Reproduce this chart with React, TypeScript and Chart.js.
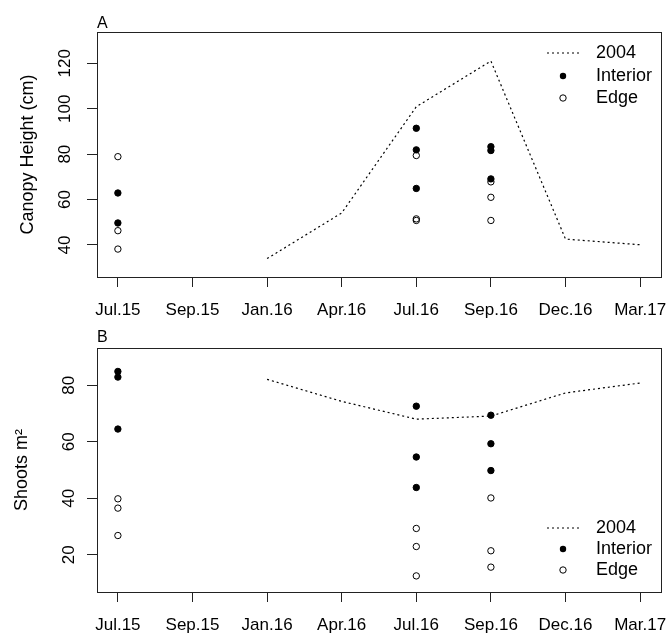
import React, { useEffect, useRef } from 'react';
import { Chart, registerables } from 'chart.js';
Chart.register(...registerables);

const FONT = "'Liberation Sans', Arial, sans-serif";

// x axis (equally spaced sampling periods)
const xLabels = ['Jul.15', 'Sep.15', 'Jan.16', 'Apr.16', 'Jul.16', 'Sep.16', 'Dec.16', 'Mar.17'];
const xTickPositions = [1, 2, 3, 4, 5, 6, 7, 8];

// 2004 reference line
const lineX = [3, 4, 5, 6, 7, 8];
const height2004 = [34.0, 54.1, 100.9, 121.0, 42.6, 40.1];
const shoots2004 = [82.1, 74.3, 68.0, 69.1, 77.3, 80.8];

// panel A: canopy height (cm)
const heightInteriorJul15 = [62.9, 49.7];
const heightEdgeJul15 = [78.9, 46.3, 38.2];
const heightInteriorJul16 = [91.4, 81.9, 64.9];
const heightEdgeJul16 = [79.4, 51.5, 50.8];
const heightInteriorSep16 = [83.3, 81.6, 69.1];
const heightEdgeSep16 = [67.8, 61.0, 50.8];

// panel B: shoots m2
const shootsInteriorJul15 = [84.9, 82.9, 64.5];
const shootsEdgeJul15 = [39.8, 36.5, 26.8];
const shootsInteriorJul16 = [72.6, 54.6, 43.8];
const shootsEdgeJul16 = [29.3, 22.9, 12.5];
const shootsInteriorSep16 = [69.4, 59.3, 49.8];
const shootsEdgeSep16 = [40.1, 21.4, 15.6];

const heightTicks = [40, 60, 80, 100, 120];
const shootsTicks = [20, 40, 60, 80];
const legendLabels = ['2004', 'Interior', 'Edge'];

const pts = (x: number, arr: number[]) => arr.map((y) => ({ x, y }));

type PanelSpec = {
  width: number;
  height: number;
  padTop: number;
  padRight: number;
  yAxisWidth: number;
  xAxisHeight: number;
  yMin: number;
  yMax: number;
  yTicks: number[];
  yTitle: string;
  yTitlePad: number;
  panelLabel: string;
  panelLabelY: number;
  legendY: number[];
  line: number[];
  interior: number[][];
  edge: number[][];
};

function buildChart(canvas: HTMLCanvasElement, p: PanelSpec) {
  const interiorData = p.interior.flatMap((arr, i) => pts([1, 5, 6][i], arr));
  const edgeData = p.edge.flatMap((arr, i) => pts([1, 5, 6][i], arr));
  const lineData = lineX.map((x, i) => ({ x, y: p.line[i] }));

  const framePlugin = {
    id: 'frame',
    afterDraw(chart: any) {
      const { ctx, chartArea } = chart;
      ctx.save();
      ctx.strokeStyle = '#222';
      ctx.lineWidth = 1;
      ctx.strokeRect(
        Math.round(chartArea.left) + 0.5,
        Math.round(chartArea.top) + 0.5,
        Math.round(chartArea.right - chartArea.left),
        Math.round(chartArea.bottom - chartArea.top)
      );
      // panel label
      ctx.fillStyle = '#000';
      ctx.font = `16px ${FONT}`;
      ctx.textAlign = 'left';
      ctx.textBaseline = 'alphabetic';
      ctx.fillText(p.panelLabel, chartArea.left, p.panelLabelY);
      // legend
      const lx0 = 547, lx1 = 579, sx = 563, tx = 596;
      ctx.font = `18px ${FONT}`;
      ctx.textBaseline = 'middle';
      ctx.beginPath();
      ctx.setLineDash([2, 3]);
      ctx.lineWidth = 1.2;
      ctx.strokeStyle = '#000';
      ctx.moveTo(lx0, p.legendY[0]);
      ctx.lineTo(lx1, p.legendY[0]);
      ctx.stroke();
      ctx.setLineDash([]);
      ctx.fillText(legendLabels[0], tx, p.legendY[0]);
      ctx.beginPath();
      ctx.arc(sx, p.legendY[1], 3.2, 0, Math.PI * 2);
      ctx.fillStyle = '#000';
      ctx.fill();
      ctx.fillText(legendLabels[1], tx, p.legendY[1]);
      ctx.beginPath();
      ctx.arc(sx, p.legendY[2], 3.2, 0, Math.PI * 2);
      ctx.lineWidth = 1;
      ctx.strokeStyle = '#000';
      ctx.stroke();
      ctx.fillText(legendLabels[2], tx, p.legendY[2]);
      ctx.restore();
    },
  };

  return new Chart(canvas, {
    type: 'scatter',
    data: {
      datasets: [
        {
          label: '2004',
          data: lineData,
          showLine: true,
          borderColor: '#000',
          borderWidth: 1.2,
          borderDash: [2, 3],
          pointRadius: 0,
          fill: false,
        },
        {
          label: 'Interior',
          data: interiorData,
          pointRadius: 3.2,
          pointBackgroundColor: '#000',
          pointBorderColor: '#000',
          pointBorderWidth: 1,
        },
        {
          label: 'Edge',
          data: edgeData,
          pointRadius: 3.2,
          pointBackgroundColor: 'rgba(255,255,255,0)',
          pointBorderColor: '#000',
          pointBorderWidth: 1,
        },
      ],
    } as any,
    options: {
      responsive: false,
      animation: false,
      events: [],
      layout: { padding: { top: p.padTop, right: p.padRight, left: 0, bottom: 0 } },
      plugins: { legend: { display: false }, tooltip: { enabled: false } },
      scales: {
        x: {
          type: 'linear',
          min: 0.72,
          max: 8.28,
          afterBuildTicks: (s: any) => {
            s.ticks = xTickPositions.map((v) => ({ value: v }));
          },
          afterFit: (s: any) => {
            s.height = p.xAxisHeight;
            s.paddingLeft = 0;
            s.paddingRight = 0;
          },
          border: { display: false },
          grid: {
            display: true,
            drawOnChartArea: false,
            drawTicks: true,
            tickLength: 10,
            color: '#222',
          },
          ticks: {
            autoSkip: false,
            maxRotation: 0,
            minRotation: 0,
            padding: 13,
            color: '#000',
            font: { family: FONT, size: 17 },
            callback: (v: any) => xLabels[xTickPositions.indexOf(Number(v))],
          },
        },
        y: {
          type: 'linear',
          min: p.yMin,
          max: p.yMax,
          afterBuildTicks: (s: any) => {
            s.ticks = p.yTicks.map((v) => ({ value: v }));
          },
          afterFit: (s: any) => {
            s.width = p.yAxisWidth;
            s.paddingTop = 0;
            s.paddingBottom = 0;
          },
          border: { display: false },
          grid: {
            display: true,
            drawOnChartArea: false,
            drawTicks: true,
            tickLength: 10,
            color: '#222',
          },
          ticks: {
            minRotation: 90,
            maxRotation: 90,
            crossAlign: 'center',
            padding: 8,
            color: '#000',
            font: { family: FONT, size: 17 },
          },
          title: {
            display: true,
            text: p.yTitle,
            color: '#000',
            font: { family: FONT, size: 18 },
            padding: { top: p.yTitlePad, bottom: 0 },
          },
        },
      },
    } as any,
    plugins: [framePlugin],
  });
}

const panelA: PanelSpec = {
  width: 667,
  height: 330,
  padTop: 32,
  padRight: 6,
  yAxisWidth: 97,
  xAxisHeight: 53,
  yMin: 25.9,
  yMax: 133.8,
  yTicks: heightTicks,
  yTitle: 'Canopy Height (cm)',
  yTitlePad: 17,
  panelLabel: 'A',
  panelLabelY: 28,
  legendY: [53, 76, 98],
  line: height2004,
  interior: [heightInteriorJul15, heightInteriorJul16, heightInteriorSep16],
  edge: [heightEdgeJul15, heightEdgeJul16, heightEdgeSep16],
};

const panelB: PanelSpec = {
  width: 667,
  height: 305,
  padTop: 18,
  padRight: 6,
  yAxisWidth: 97,
  xAxisHeight: 43,
  yMin: 6.8,
  yMax: 93.2,
  yTicks: shootsTicks,
  yTitle: 'Shoots m\u00B2',
  yTitlePad: 11,
  panelLabel: 'B',
  panelLabelY: 12,
  legendY: [198, 219, 240],
  line: shoots2004,
  interior: [shootsInteriorJul15, shootsInteriorJul16, shootsInteriorSep16],
  edge: [shootsEdgeJul15, shootsEdgeJul16, shootsEdgeSep16],
};

function Panel({ spec, top }: { spec: PanelSpec; top: number }) {
  const ref = useRef<HTMLCanvasElement | null>(null);
  useEffect(() => {
    if (!ref.current) return;
    const chart = buildChart(ref.current, spec);
    return () => chart.destroy();
  }, [spec]);
  return (
    <canvas
      ref={ref}
      width={spec.width}
      height={spec.height}
      style={{ position: 'absolute', left: 0, top, width: spec.width, height: spec.height, display: 'block' }}
    />
  );
}

export default function App() {
  return (
    <div style={{ position: 'absolute', left: 0, top: 0, width: 667, height: 635, background: '#fff' }}>
      <Panel spec={panelA} top={0} />
      <Panel spec={panelB} top={330} />
    </div>
  );
}
